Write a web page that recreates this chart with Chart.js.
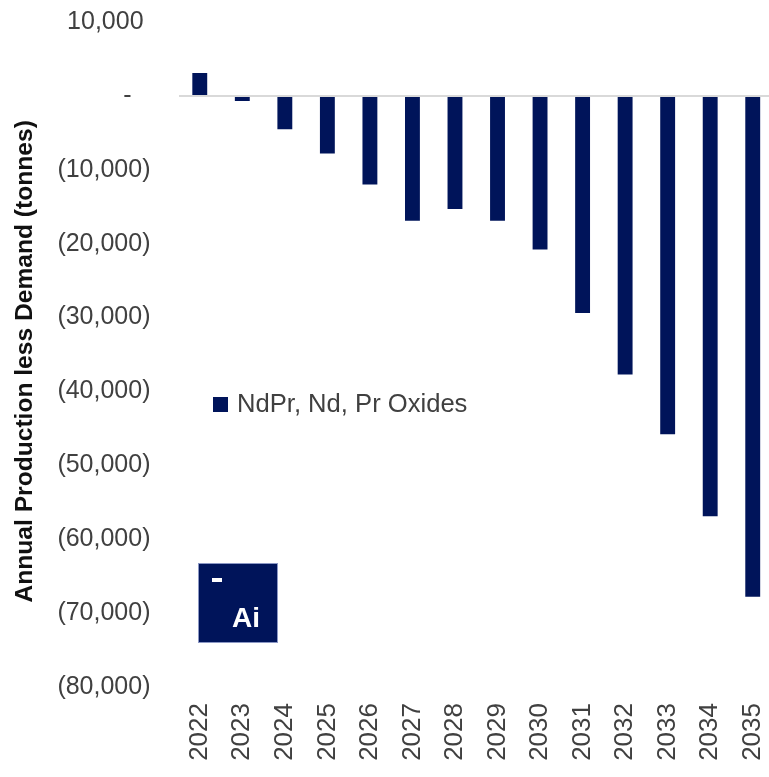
<!DOCTYPE html>
<html><head><meta charset="utf-8">
<script src="https://cdn.jsdelivr.net/npm/chart.js@4.4.0/dist/chart.umd.min.js"></script>
<style>
html,body{margin:0;padding:0;background:#fff;overflow:hidden;width:769px;height:777px}
#wrap{width:775px;height:777px}
</style></head>
<body><div id="wrap"><canvas id="c" width="775" height="777"></canvas></div>
<script>
const years = ['2022','2023','2024','2025','2026','2027','2028','2029','2030','2031','2032','2033','2034','2035'];
const productionLessDemand = [3100, -700, -4500, -7800, -12000, -16900, -15300, -16900, -20800, -29400, -37700, -45800, -56900, -67800];
const yTickValues = [10000, 0, -10000, -20000, -30000, -40000, -50000, -60000, -70000, -80000];
const seriesLabel = 'NdPr, Nd, Pr Oxides';
const yAxisTitle = 'Annual Production less Demand (tonnes)';
const logoText = 'Ai';

const NAVY = '#00145a';
const TXT = '#404040';
const FONT = "'Liberation Sans', Arial, sans-serif";

function fmt(v) {
  if (v > 0) return v.toLocaleString('en-US') + ' ';
  if (v === 0) return '-  \u2009';
  return '(' + Math.abs(v).toLocaleString('en-US') + ')';
}

const overlay = {
  id: 'overlay',
  afterDraw(chart) {
    const ctx = chart.ctx;
    ctx.save();
    // legend (inside plot)
    const ds = chart.data.datasets[0];
    ctx.fillStyle = ds.backgroundColor;
    ctx.fillRect(213, 397, 15, 15);
    ctx.fillStyle = TXT;
    ctx.font = '25.6px ' + FONT;
    ctx.textBaseline = 'middle';
    ctx.textAlign = 'left';
    ctx.fillText(ds.label, 237, 405);
    // logo
    ctx.fillStyle = NAVY;
    ctx.fillRect(198, 563, 80, 80);
    ctx.strokeStyle = '#8b97c4';
    ctx.lineWidth = 1;
    ctx.strokeRect(198.5, 563.5, 79, 79);
    ctx.fillStyle = '#ffffff';
    ctx.fillRect(212, 578, 10, 4);
    ctx.font = 'bold 28px ' + FONT;
    ctx.textBaseline = 'alphabetic';
    ctx.fillText(logoText, 232, 627);
    ctx.restore();
  }
};

new Chart(document.getElementById('c'), {
  type: 'bar',
  data: {
    labels: years,
    datasets: [{
      label: seriesLabel,
      data: productionLessDemand,
      backgroundColor: NAVY,
      borderWidth: 0,
      categoryPercentage: 1,
      barPercentage: 0.35
    }]
  },
  options: {
    responsive: false,
    animation: false,
    devicePixelRatio: 1,
    layout: { padding: { top: 22, right: 1, left: 0, bottom: 0 } },
    plugins: { legend: { display: false }, tooltip: { enabled: false } },
    scales: {
      x: {
        grid: { display: false, drawTicks: false },
        border: { display: false },
        ticks: {
          color: TXT, font: { family: FONT, size: 26 },
          minRotation: 90, maxRotation: 90, padding: 16, autoSkip: false
        },
        afterFit(scale) {
          scale.height = 90;
          scale.paddingLeft = 0; scale.paddingRight = 0;
          scale.paddingTop = 0; scale.paddingBottom = 0;
        }
      },
      y: {
        min: -80000, max: 10000,
        afterBuildTicks(scale) { scale.ticks = yTickValues.map(v => ({ value: v })); },
        grid: {
          drawTicks: false,
          color: ctx => (ctx.tick && ctx.tick.value === 0) ? '#d9d9d9' : 'rgba(0,0,0,0)',
          lineWidth: ctx => (ctx.tick && ctx.tick.value === 0) ? 2 : 0
        },
        border: { display: false },
        ticks: {
          color: TXT, font: { family: FONT, size: 25 }, padding: 28,
          callback: v => fmt(v)
        },
        title: {
          display: true, text: yAxisTitle + '  ',
          color: '#111111', font: { family: FONT, size: 24.6, weight: 'bold' },
          padding: { top: 10, bottom: 0 }
        },
        afterFit(scale) {
          scale.width = 178.5;
          scale.paddingTop = 0; scale.paddingBottom = 0;
          scale.paddingLeft = 0; scale.paddingRight = 0;
        }
      }
    }
  },
  plugins: [overlay]
});
</script>
</body></html>
